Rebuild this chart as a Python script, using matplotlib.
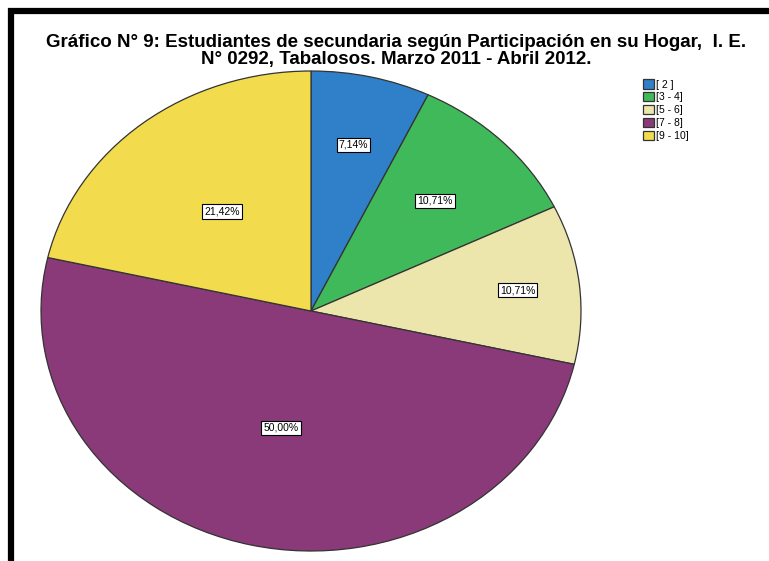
import numpy as np
import matplotlib
matplotlib.use("Agg")
import matplotlib.pyplot as plt
from matplotlib.patches import Rectangle

# datos
categorias = ["[ 2 ]", "[3 - 4]", "[5 - 6]", "[7 - 8]", "[9 - 10]"]
porcentajes = [7.14, 10.71, 10.71, 50.00, 21.42]
colores = ["#2f7fc9", "#3fb95a", "#ece6ad", "#8a3a78", "#f2dc4e"]

titulo = ("Gráfico N° 9: Estudiantes de secundaria según Participación en su Hogar,  I. E.\n"
          "N° 0292, Tabalosos. Marzo 2011 - Abril 2012.")

# distancia radial de cada etiqueta (solo estilo)
label_r = [0.71, 0.65, 0.77, 0.50, 0.53]

plt.rcParams['font.family'] = ['Liberation Sans', 'DejaVu Sans']

fig = plt.figure(figsize=(7.69, 5.61), dpi=100)

# marco negro del grafico
fig.patches.append(Rectangle((11 / 769, -0.02), 1.05, (561 - 11) / 561 + 0.02,
                             transform=fig.transFigure, fill=False,
                             edgecolor="black", linewidth=4.5))

ax = fig.add_axes([41 / 769, 10 / 561, 540 / 769, 480 / 561])
wedges, texts, autotexts = ax.pie(
    porcentajes, colors=colores, startangle=90, counterclock=False,
    autopct="%1.2f%%", pctdistance=0.6,
    wedgeprops=dict(edgecolor="#333333", linewidth=0.9))
ax.set_aspect("auto")
ax.set_xlim(-1, 1)
ax.set_ylim(-1, 1)

for t, r, p in zip(autotexts, label_r, porcentajes):
    x, y = t.get_position()
    f = r / 0.6
    t.set_position((x * f, y * f))
    t.set_text(f"{p:.2f}%".replace(".", ","))
    t.set_fontsize(7.5)
    t.set_bbox(dict(facecolor="white", edgecolor="black", linewidth=0.8, pad=1.5))

fig.text(0.515, 0.909, titulo, ha="center", va="center", fontsize=13.5,
         fontweight="bold", linespacing=0.95)

fig.legend(wedges, categorias, loc="upper left", bbox_to_anchor=(636 / 769, 1 - 72 / 561),
           fontsize=7.5, frameon=False, handlelength=1.0, handleheight=1.0,
           handletextpad=0.2, labelspacing=0.25, borderpad=0.2)

fig.savefig("out.png", dpi=100)
